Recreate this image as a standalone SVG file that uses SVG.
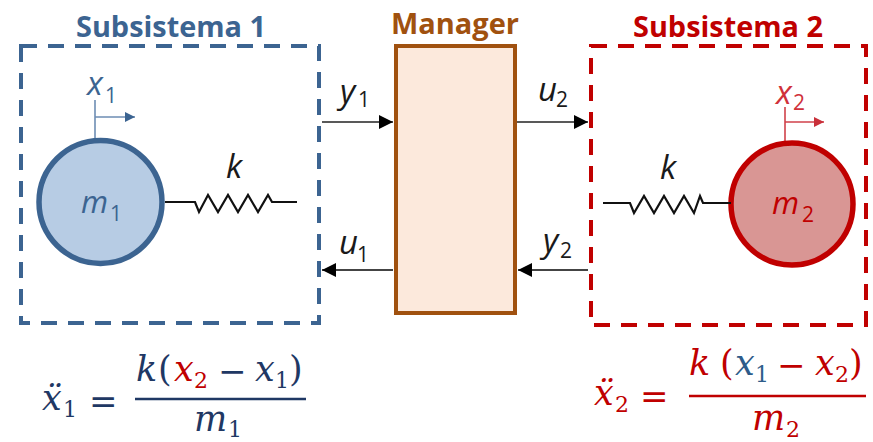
<svg xmlns="http://www.w3.org/2000/svg" width="873" height="442" viewBox="0 0 873 442">
<style>
.t{font-family:"Open Sans","Liberation Sans",sans-serif;font-weight:700;font-size:29px}
.l{font-family:"Open Sans","Liberation Sans",sans-serif;font-style:italic;font-size:33px}
.s{font-family:"Open Sans","Liberation Sans",sans-serif;font-size:21px}
.e{font-family:"DejaVu Serif","Liberation Serif",serif;font-style:italic;font-size:35px}
.r{font-family:"DejaVu Serif","Liberation Serif",serif;font-size:35px}
.o{font-family:"DejaVu Serif","Liberation Serif",serif;font-size:34px}
.n{font-family:"DejaVu Serif","Liberation Serif",serif;font-size:22px}
.b{fill:#1f3864}.red{fill:#c00000}.mb{fill:#2e5c8a}
.blue{fill:#3c6491}.rd{fill:#c00000}.k{fill:#1a1a1a}
.wire{fill:none;stroke:#222;stroke-width:1.4}
.wire2{fill:none;stroke:#444;stroke-width:1.9}
.spring{fill:none;stroke:#111;stroke-width:2.2}
</style>
<defs>
<marker id="ak" markerUnits="userSpaceOnUse" markerWidth="15" markerHeight="14" refX="14" refY="7" orient="auto"><path d="M0 0L14 7L0 14Z" fill="#000"/></marker>
<marker id="ab" markerUnits="userSpaceOnUse" markerWidth="11" markerHeight="10" refX="10" refY="5" orient="auto"><path d="M0 0L10 5L0 10Z" fill="#3c6491"/></marker>
<marker id="ar" markerUnits="userSpaceOnUse" markerWidth="11" markerHeight="10" refX="10" refY="5" orient="auto"><path d="M0 0L10 5L0 10Z" fill="#c9303a"/></marker>
</defs>

<g id="subsistema1">
<rect x="21" y="46" width="298" height="277" fill="none" stroke="#3c6491" stroke-width="4" stroke-dasharray="16 11"/>
<text class="t blue" x="171" y="37" text-anchor="middle" textLength="190" lengthAdjust="spacingAndGlyphs">Subsistema 1</text>
<line x1="95" y1="100" x2="95" y2="141" stroke="#6d8db3" stroke-width="1.6"/>
<line x1="95" y1="117" x2="135" y2="117" stroke="#6d8db3" stroke-width="1.6" marker-end="url(#ab)"/>
<text class="l blue" x="87" y="95">x</text><text class="s blue" x="105" y="103">1</text>
<circle cx="100.500" cy="202" r="61.500" fill="#b7cce4" stroke="#3c6491" stroke-width="5.500"/>
<text class="l blue" x="81" y="213" style="font-size:31px">m</text><text class="s blue" x="110" y="221">1</text>
<path class="spring" d="M165 202H195L199 212L208 195L218 212L228 195L238 212L248 195L258 212L268 195L272 202H297"/>
<text class="l k" x="226" y="178">k</text>
</g>

<g id="manager">
<rect x="396" y="46" width="119" height="267" fill="#fce9dc" stroke="#a0510f" stroke-width="4"/>
<text class="t" fill="#a0510f" x="455" y="34" text-anchor="middle" textLength="128" lengthAdjust="spacingAndGlyphs">Manager</text>
</g>

<g id="subsistema2">
<rect x="591" y="46" width="275" height="279" fill="none" stroke="#c00000" stroke-width="4" stroke-dasharray="16 11"/>
<text class="t rd" x="728" y="37" text-anchor="middle" textLength="190" lengthAdjust="spacingAndGlyphs">Subsistema 2</text>
<line x1="785" y1="107" x2="785" y2="145" stroke="#d0414a" stroke-width="1.6"/>
<line x1="785" y1="122" x2="824" y2="122" stroke="#d0414a" stroke-width="1.6" marker-end="url(#ar)"/>
<text class="l" fill="#d0313a" x="776" y="104">x</text><text class="s" fill="#d0313a" x="793" y="110">2</text>
<circle cx="792" cy="204" r="61" fill="#d99694" stroke="#c00000" stroke-width="5.500"/>
<text class="l rd" x="772" y="214" style="font-size:31px">m</text><text class="s rd" x="802" y="222">2</text>
<path class="spring" d="M603 203H630L634 213L644 196L654 213L664 196L674 213L684 196L694 213L700 196L703 203H731"/>
<text class="l k" x="660" y="179">k</text>
</g>

<g id="connectors">
<line class="wire" x1="322" y1="122" x2="393" y2="122" marker-end="url(#ak)"/>
<line class="wire" x1="517" y1="122" x2="588" y2="122" marker-end="url(#ak)"/>
<line class="wire2" x1="393" y1="270" x2="322" y2="270" marker-end="url(#ak)"/>
<line class="wire2" x1="588" y1="270" x2="518" y2="270" marker-end="url(#ak)"/>
</g>

<g id="labels">
<text class="l k" x="340" y="103">y</text><text class="s k" x="358" y="107">1</text>
<text class="l k" x="538" y="101">u</text><text class="s k" x="556" y="107">2</text>
<text class="l k" x="339" y="254">u</text><text class="s k" x="357" y="262">1</text>
<text class="l k" x="543" y="252">y</text><text class="s k" x="560" y="258">2</text>
</g>

<g id="equation1">
<text class="e b" x="42" y="410">ẍ</text><text class="n b" x="63" y="417">1</text>
<text class="o b" x="89" y="413">=</text>
<text class="e b" x="136" y="381">k</text><text class="r b" x="158" y="381">(</text>
<text class="e red" x="174" y="381">x</text><text class="n red" x="194" y="388">2</text>
<text class="o b" x="218" y="383">−</text>
<text class="e b" x="255" y="381">x</text><text class="n b" x="275" y="388">1</text>
<text class="r b" x="289" y="381">)</text>
<line x1="135" y1="399" x2="306" y2="399" stroke="#1f3864" stroke-width="2.4"/>
<text class="e b" x="194" y="431">m</text><text class="n b" x="228" y="437">1</text>
</g>

<g id="equation2">
<text class="e red" x="594" y="405">ẍ</text><text class="n red" x="615" y="412">2</text>
<text class="o red" x="640" y="408">=</text>
<text class="e red" x="689" y="375">k</text><text class="r red" x="720" y="375">(</text>
<text class="e mb" x="735" y="375">x</text><text class="n mb" x="755" y="382">1</text>
<text class="o red" x="777" y="377">−</text>
<text class="e red" x="815" y="375">x</text><text class="n red" x="835" y="382">2</text>
<text class="r red" x="849" y="375">)</text>
<line x1="689" y1="396" x2="866" y2="396" stroke="#c00000" stroke-width="2.4"/>
<text class="e red" x="752" y="430">m</text><text class="n red" x="786" y="437">2</text>
</g>
</svg>
